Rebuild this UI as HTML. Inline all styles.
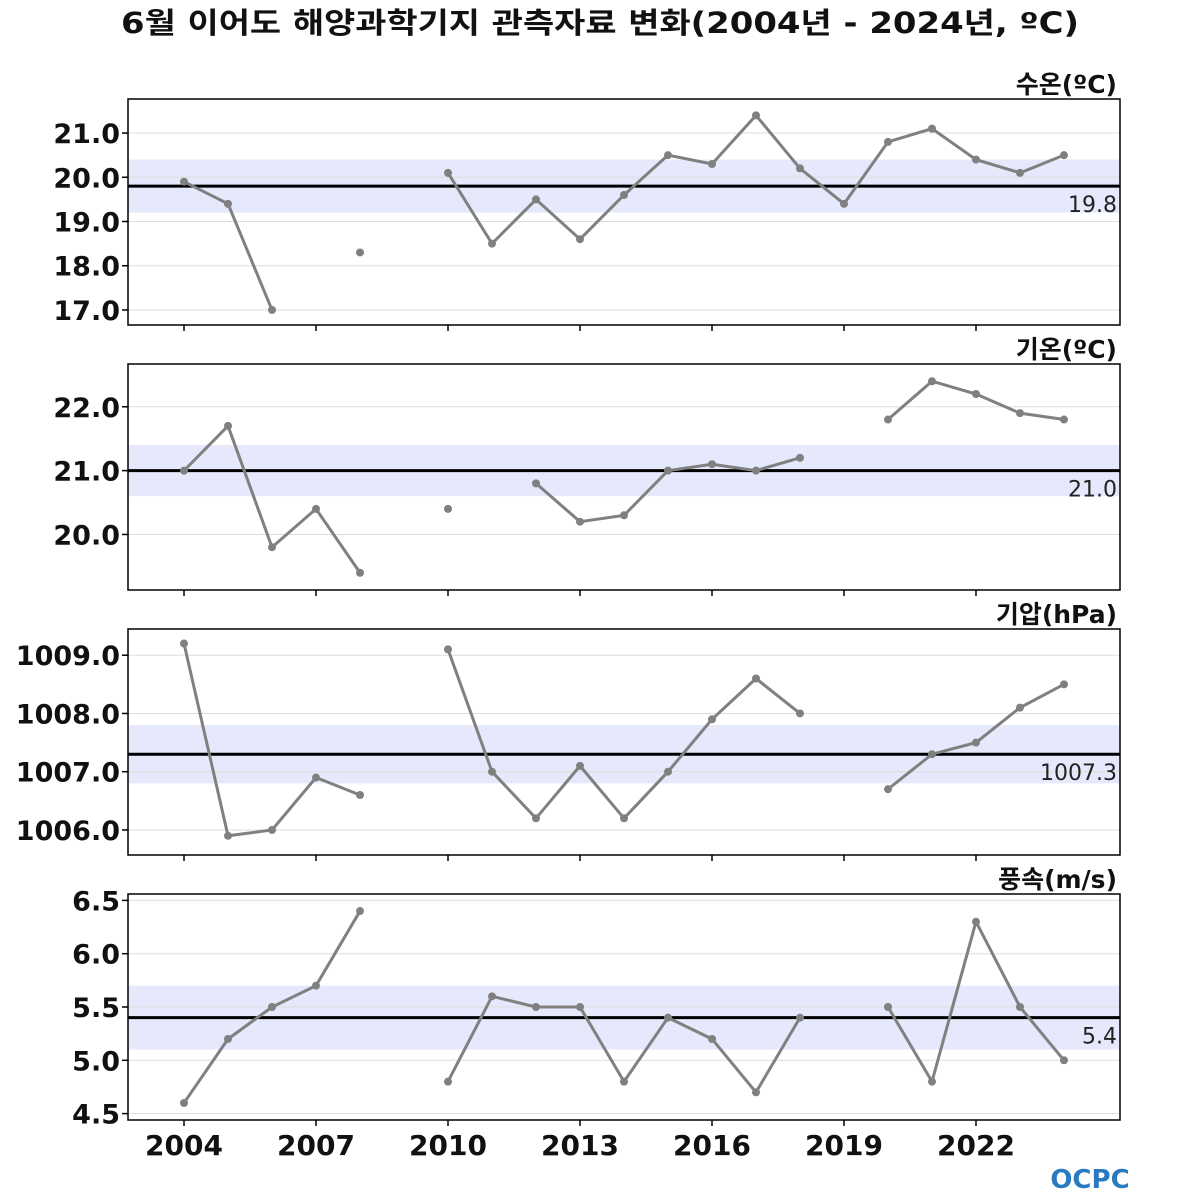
<!DOCTYPE html>
<html><head><meta charset="utf-8"><style>
body{margin:0;background:#fff;}
svg{display:block;font-family:"DejaVu Sans","Noto Sans CJK KR",sans-serif;}
</style></head><body>
<svg id="c" width="1200" height="1200">
<text x="600" y="33" text-anchor="middle" font-size="29" font-weight="bold" fill="#111" textLength="958" lengthAdjust="spacingAndGlyphs">6월 이어도 해양과학기지 관측자료 변화(2004년 - 2024년, ºC)</text>
<g><text x="1090" y="1188" text-anchor="middle" font-size="26" font-weight="bold" fill="#2a7ac0">OCPC</text></g>
</svg>
<script>
const years=[2004,2005,2006,2007,2008,2009,2010,2011,2012,2013,2014,2015,2016,2017,2018,2019,2020,2021,2022,2023,2024];
const sst=[19.9,19.4,17.0,null,18.3,null,20.1,18.5,19.5,18.6,19.6,20.5,20.3,21.4,20.2,19.4,20.8,21.1,20.4,20.1,20.5];
const airTemp=[21.0,21.7,19.8,20.4,19.4,null,20.4,null,20.8,20.2,20.3,21.0,21.1,21.0,21.2,null,21.8,22.4,22.2,21.9,21.8];
const pressure=[1009.2,1005.9,1006.0,1006.9,1006.6,null,1009.1,1007.0,1006.2,1007.1,1006.2,1007.0,1007.9,1008.6,1008.0,null,1006.7,1007.3,1007.5,1008.1,1008.5];
const wind=[4.6,5.2,5.5,5.7,6.4,null,4.8,5.6,5.5,5.5,4.8,5.4,5.2,4.7,5.4,null,5.5,4.8,6.3,5.5,5.0];
const means=[19.8,21.0,1007.3,5.4];
const bands=[[19.2,20.4],[20.6,21.4],[1006.8,1007.8],[5.1,5.7]];
const yTicks=[[17,18,19,20,21],[20,21,22],[1006,1007,1008,1009],[4.5,5.0,5.5,6.0,6.5]];
const xTicks=[2004,2007,2010,2013,2016,2019,2022];
const titles=["수온(ºC)","기온(ºC)","기압(hPa)","풍속(m/s)"];
const names=["water-temp","air-temp","air-pressure","wind-speed"];
const series=[sst,airTemp,pressure,wind];
const domains=[[16.66,21.77],[19.13,22.67],[1005.57,1009.45],[4.44,6.56]];
const svg=document.getElementById('c');const NS='http://www.w3.org/2000/svg';
function mk(t,a,p){const e=document.createElementNS(NS,t);for(const k in a)e.setAttribute(k,a[k]);(p||svg).appendChild(e);return e;}
const X0=128,X1=1120,xmin=2002.727,xmax=2025.273;
const xs=v=>X0+(v-xmin)/(xmax-xmin)*(X1-X0);
const tops=[99,364,629,894],H=226;
for(let i=0;i<4;i++){
 const top=tops[i],bot=top+H,[d0,d1]=domains[i];
 const ys=v=>bot-(v-d0)/(d1-d0)*H;
 const g=mk('g',{});
 
 
 const b=mk('rect',{x:X0,y:ys(bands[i][1]),width:X1-X0,height:ys(bands[i][0])-ys(bands[i][1]),fill:'#e6e9fb'},g);
 
 
 yTicks[i].forEach(t=>{
  mk('line',{x1:X0,x2:X1,y1:ys(t),y2:ys(t),stroke:'#ddd','stroke-width':1},g);
  mk('line',{x1:X0-6,x2:X0,y1:ys(t),y2:ys(t),stroke:'#000','stroke-width':1.5},g);
  const tl=mk('text',{x:X0-8,y:ys(t)+10,'text-anchor':'end','font-size':27,'font-weight':'bold',fill:'#111'},g);
  tl.textContent=t.toFixed(1);
  
  
 });
 xTicks.forEach(t=>mk('line',{x1:xs(t),x2:xs(t),y1:bot,y2:bot+6,stroke:'#000','stroke-width':1.5},g));
 const ml=mk('line',{x1:X0,x2:X1,y1:ys(means[i]),y2:ys(means[i]),stroke:'#000','stroke-width':3},g);
 
 
 const mt=mk('text',{x:X1-3,y:ys(means[i])+26,'text-anchor':'end','font-size':22,fill:'#222'},g);
 mt.textContent=means[i].toFixed(1);
 
 
 const data=series[i];let segs=[],cur=[];
 data.forEach((v,j)=>{if(v==null){if(cur.length)segs.push(cur);cur=[];}else cur.push([xs(years[j]),ys(v)]);});
 if(cur.length)segs.push(cur);
 segs.forEach(s=>{if(s.length>1){const p=mk('polyline',{points:s.map(q=>q.join(',')).join(' '),fill:'none',stroke:'#808080','stroke-width':3},g);
  
  }});
 data.forEach((v,j)=>{if(v!=null){const c=mk('circle',{cx:xs(years[j]),cy:ys(v),r:4,fill:'#808080'},g);
  
  }});
 mk('rect',{x:X0,y:top,width:X1-X0,height:H,fill:'none',stroke:'#000','stroke-width':1.5},g);
 const tt=mk('text',{x:X1-3,y:top-6,'text-anchor':'end','font-size':25,'font-weight':'bold',fill:'#111'},g);
 tt.textContent=titles[i];
 
 
}
xTicks.forEach(t=>{const l=mk('text',{x:xs(t),y:1155,'text-anchor':'middle','font-size':28,'font-weight':'bold',fill:'#111'});
 l.textContent=t;
 
 });
</script>
</body></html>
